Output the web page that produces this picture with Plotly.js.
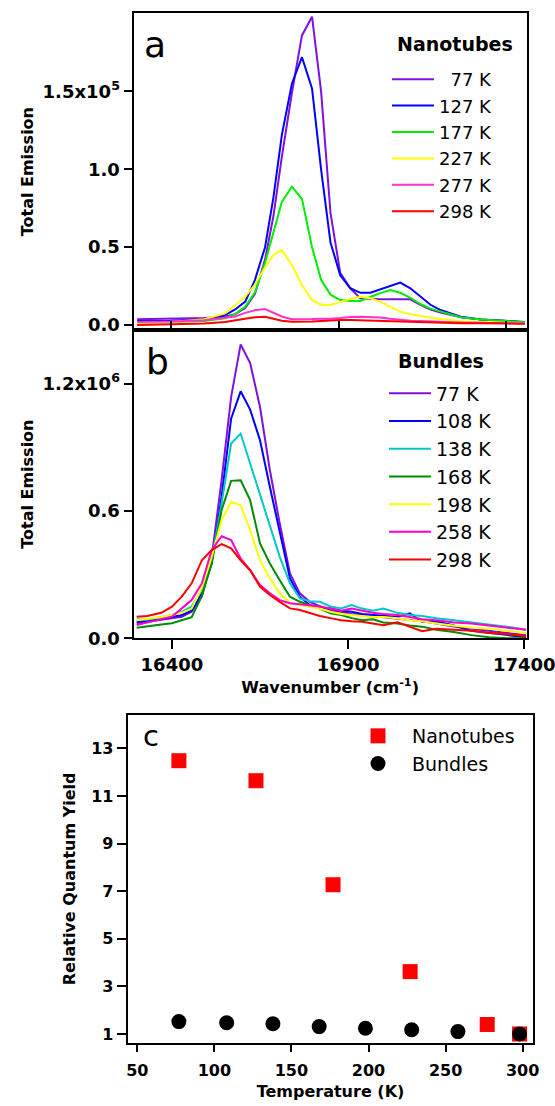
<!DOCTYPE html>
<html>
<head>
<meta charset="utf-8">
<script src="https://cdn.plot.ly/plotly-3.0.1.min.js"></script>
<style>html,body{margin:0;padding:0;background:#fff;}</style>
</head>
<body>
<div id="chart" style="width:555px;height:1106px;"></div>
<script>
// ---------- Panel a: Nanotubes spectra (Total Emission, units of 1e5) ----------
const wavenumberA = [16300,16400,16500,16562,16592,16622,16651,16681,16706,16731,16761,16791,16821,16848,16876,16905,16935,16965,16995,17024,17054,17084,17114,17144,17174,17204,17264,17324,17384,17455];
const nano77  = [0.037,0.040,0.045,0.053,0.070,0.110,0.200,0.420,0.700,1.080,1.490,1.860,1.980,1.500,0.720,0.335,0.236,0.171,0.167,0.165,0.165,0.167,0.165,0.130,0.100,0.080,0.050,0.035,0.026,0.018];
const nano127 = [0.026,0.028,0.035,0.064,0.100,0.150,0.290,0.500,0.820,1.220,1.550,1.720,1.520,1.000,0.530,0.320,0.236,0.207,0.207,0.229,0.250,0.272,0.236,0.180,0.130,0.096,0.053,0.035,0.028,0.020];
const nano177 = [0.015,0.018,0.025,0.043,0.070,0.118,0.210,0.400,0.590,0.790,0.888,0.810,0.500,0.290,0.195,0.160,0.154,0.154,0.180,0.205,0.225,0.207,0.175,0.135,0.105,0.085,0.050,0.035,0.026,0.018];
const nano227 = [0.015,0.020,0.037,0.075,0.125,0.182,0.260,0.370,0.450,0.482,0.385,0.257,0.160,0.130,0.128,0.150,0.168,0.182,0.172,0.150,0.120,0.085,0.070,0.057,0.047,0.038,0.024,0.020,0.015,0.012];
const nano277 = [0.020,0.022,0.030,0.045,0.055,0.078,0.095,0.103,0.080,0.055,0.037,0.036,0.038,0.040,0.040,0.045,0.052,0.053,0.052,0.048,0.040,0.033,0.028,0.025,0.022,0.020,0.016,0.014,0.012,0.010];
const nano298 = [0.000,0.003,0.010,0.020,0.028,0.040,0.050,0.053,0.040,0.028,0.021,0.020,0.022,0.025,0.030,0.032,0.032,0.030,0.030,0.028,0.025,0.021,0.018,0.016,0.014,0.013,0.012,0.011,0.010,0.008];
const namesA  = ["\u200777 K","127 K","177 K","227 K","277 K","298 K"];
const colorsA = ["#7f10e0","#0000ff","#00ee00","#ffff00","#ff33cc","#ff0000"];
const seriesA = [nano77,nano127,nano177,nano227,nano277,nano298];

// ---------- Panel b: Bundles spectra (Total Emission, units of 1e6) ----------
const wavenumberB = [16300,16330,16370,16400,16428,16456,16485,16513,16541,16568,16595,16622,16650,16678,16706,16735,16763,16791,16820,16850,16880,16910,16940,16970,17000,17040,17075,17110,17150,17200,17250,17300,17350,17405];
const bund77  = [0.071,0.078,0.086,0.094,0.102,0.125,0.196,0.384,0.745,1.137,1.385,1.297,1.090,0.792,0.541,0.306,0.212,0.172,0.150,0.130,0.125,0.115,0.110,0.105,0.100,0.092,0.085,0.080,0.070,0.055,0.045,0.035,0.025,0.015];
const bund108 = [0.078,0.082,0.090,0.100,0.110,0.130,0.212,0.354,0.666,1.035,1.164,1.078,0.933,0.713,0.494,0.282,0.196,0.157,0.145,0.140,0.130,0.125,0.115,0.110,0.105,0.100,0.118,0.078,0.080,0.060,0.035,0.025,0.015,0.005];
const bund138 = [0.090,0.088,0.100,0.110,0.125,0.150,0.230,0.370,0.635,0.918,0.965,0.824,0.682,0.525,0.384,0.259,0.188,0.175,0.172,0.150,0.141,0.157,0.140,0.130,0.140,0.120,0.110,0.105,0.094,0.085,0.075,0.065,0.055,0.040];
const bund168 = [0.050,0.055,0.065,0.071,0.085,0.100,0.200,0.354,0.604,0.742,0.745,0.651,0.447,0.353,0.274,0.196,0.172,0.157,0.140,0.118,0.110,0.095,0.085,0.090,0.075,0.070,0.060,0.055,0.040,0.030,0.015,0.005,0.000,0.000];
const bund198 = [0.085,0.090,0.100,0.110,0.120,0.140,0.240,0.384,0.557,0.643,0.627,0.510,0.368,0.282,0.212,0.165,0.157,0.150,0.140,0.125,0.115,0.110,0.105,0.100,0.100,0.095,0.085,0.080,0.070,0.060,0.050,0.045,0.035,0.025];
const bund258 = [0.063,0.075,0.090,0.102,0.141,0.180,0.259,0.416,0.481,0.463,0.376,0.321,0.251,0.212,0.180,0.165,0.160,0.155,0.150,0.140,0.130,0.140,0.130,0.120,0.115,0.110,0.100,0.090,0.085,0.075,0.070,0.060,0.050,0.040];
const bund298 = [0.102,0.105,0.120,0.149,0.196,0.259,0.368,0.416,0.444,0.424,0.368,0.321,0.243,0.204,0.172,0.141,0.133,0.118,0.105,0.095,0.085,0.080,0.078,0.070,0.062,0.075,0.055,0.033,0.045,0.040,0.035,0.025,0.020,0.010];
const namesB  = ["77 K","108 K","138 K","168 K","198 K","258 K","298 K"];
const colorsB = ["#7f10e0","#0000ff","#00c8c8","#008c00","#ffff00","#ff00cc","#ff0000"];
const seriesB = [bund77,bund108,bund138,bund168,bund198,bund258,bund298];

// ---------- Panel c: Relative quantum yield ----------
const tempNano = [77,127,177,227,277,298];
const qyNano   = [12.48,11.64,7.27,3.62,1.40,1.00];
const tempBund = [77,108,138,168,198,228,258,298];
const qyBund   = [1.52,1.47,1.43,1.31,1.24,1.18,1.10,1.00];

// tick labels
const tickValsA = [0,0.5,1.0,1.5];
const tickTextA = ["0.0","0.5","1.0","1.5x10<sup>5</sup>"];
const tickValsB = [0,0.6,1.2];
const tickTextB = ["0.0","0.6","1.2x10<sup>6</sup>"];
const tickWave  = [16400,16900,17400];
const tickWaveText = ["16400","16900","17400"];
const tickTemp  = [50,100,150,200,250,300];
const tickQY    = [1,3,5,7,9,11,13];

// ---------- layout helpers (pixel -> paper) ----------
const W = 555, H = 1106;
const fx = v => v / W;
const fy = v => 1 - v / H;
const FONT = "DejaVu Sans";

const traces = [];
seriesA.forEach((s, i) => traces.push({
  x: wavenumberA, y: s, type: "scatter", mode: "lines", name: namesA[i],
  line: {color: colorsA[i], width: 2}, xaxis: "x", yaxis: "y", legend: "legend"
}));
seriesB.forEach((s, i) => traces.push({
  x: wavenumberB, y: s, type: "scatter", mode: "lines", name: namesB[i],
  line: {color: colorsB[i], width: 2}, xaxis: "x2", yaxis: "y2", legend: "legend2"
}));
traces.push({x: tempNano, y: qyNano, type: "scatter", mode: "markers", name: "Nanotubes",
  marker: {symbol: "square", size: 15, color: "#ff0000"}, xaxis: "x3", yaxis: "y3",
  legend: "legend3", cliponaxis: false});
traces.push({x: tempBund, y: qyBund, type: "scatter", mode: "markers", name: "Bundles",
  marker: {symbol: "circle", size: 15, color: "#000000"}, xaxis: "x3", yaxis: "y3",
  legend: "legend3", cliponaxis: false});

const axBase = {showline: true, mirror: true, linecolor: "#000", linewidth: 2,
  showgrid: false, zeroline: false, tickcolor: "#000", tickwidth: 2, automargin: false,
  ticklabeloverflow: "allow"};

const layout = {
  width: W, height: H, margin: {l: 0, r: 0, t: 0, b: 0},
  paper_bgcolor: "#fff", plot_bgcolor: "#fff", showlegend: true,
  font: {family: FONT, color: "#000"},
  xaxis: Object.assign({}, axBase, {domain: [fx(133.5), fx(526.8)], range: [16289, 17461],
    anchor: "y", ticks: "inside", ticklen: 9, tickvals: tickWave, showticklabels: false}),
  yaxis: Object.assign({}, axBase, {domain: [fy(330), fy(13.3)], range: [-0.032, 2.002],
    anchor: "x", ticks: "outside", ticklen: 8, tickvals: tickValsA, ticktext: tickTextA,
    tickfont: {family: FONT, size: 18, weight: "bold"},
    title: {text: "Total Emission", font: {family: FONT, size: 16, weight: "bold"}, standoff: 5}}),
  xaxis2: Object.assign({}, axBase, {domain: [fx(133.5), fx(526.8)], range: [16291, 17407],
    anchor: "y2", ticks: "outside", ticklen: 9, tickvals: tickWave, ticktext: tickWaveText,
    tickfont: {family: FONT, size: 18, weight: "bold"},
    title: {text: "Wavenumber (cm<sup>-1</sup>)", font: {family: FONT, size: 16, weight: "bold"}, standoff: 8}}),
  yaxis2: Object.assign({}, axBase, {domain: [fy(638.3), fy(330)], range: [0, 1.453],
    anchor: "x2", ticks: "outside", ticklen: 8, tickvals: tickValsB, ticktext: tickTextB,
    tickfont: {family: FONT, size: 18, weight: "bold"},
    title: {text: "Total Emission", font: {family: FONT, size: 16, weight: "bold"}, standoff: 5}}),
  xaxis3: Object.assign({}, axBase, {domain: [fx(127.7), fx(533.3)], range: [43.8, 306.9],
    anchor: "y3", ticks: "outside", ticklen: 7, tickvals: tickTemp, ticklabelstandoff: 5,
    tickfont: {family: FONT, size: 16, weight: "bold"},
    title: {text: "Temperature (K)", font: {family: FONT, size: 16, weight: "bold"}, standoff: 7}}),
  yaxis3: Object.assign({}, axBase, {domain: [fy(1042.7), fy(715)], range: [0.634, 14.4],
    anchor: "x3", ticks: "outside", ticklen: 9, tickvals: tickQY,
    tickfont: {family: FONT, size: 16, weight: "bold"},
    title: {text: "Relative Quantum Yield", font: {family: FONT, size: 16, weight: "bold"}, standoff: 12}}),
  legend: {x: fx(387), y: fy(61), xanchor: "left", yanchor: "top", bgcolor: "rgba(0,0,0,0)",
    font: {family: FONT, size: 18, color: "#000"}, itemwidth: 42, tracegroupgap: 0},
  legend2: {x: fx(384), y: fy(374.5), xanchor: "left", yanchor: "top", bgcolor: "rgba(0,0,0,0)",
    font: {family: FONT, size: 19, color: "#000"}, itemwidth: 42, tracegroupgap: 0},
  legend3: {x: fx(344), y: fy(717), xanchor: "left", yanchor: "top", bgcolor: "rgba(0,0,0,0)",
    font: {family: FONT, size: 19, color: "#000"}, itemwidth: 58, tracegroupgap: 0},
  annotations: [
    {text: "a", x: fx(155), y: fy(44.5), xref: "paper", yref: "paper", showarrow: false,
      xanchor: "center", yanchor: "middle", font: {family: FONT, size: 36, color: "#000"}},
    {text: "b", x: fx(157.5), y: fy(362), xref: "paper", yref: "paper", showarrow: false,
      xanchor: "center", yanchor: "middle", font: {family: FONT, size: 36, color: "#000"}},
    {text: "c", x: fx(151), y: fy(735.5), xref: "paper", yref: "paper", showarrow: false,
      xanchor: "center", yanchor: "middle", font: {family: FONT, size: 29, color: "#000"}},
    {text: "<b>Nanotubes</b>", x: fx(454.5), y: fy(44), xref: "paper", yref: "paper", showarrow: false,
      xanchor: "center", yanchor: "middle", font: {family: FONT, size: 19, color: "#000"}},
    {text: "<b>Bundles</b>", x: fx(441), y: fy(361), xref: "paper", yref: "paper", showarrow: false,
      xanchor: "center", yanchor: "middle", font: {family: FONT, size: 19, color: "#000"}}
  ]
};

Plotly.newPlot("chart", traces, layout, {staticPlot: true, displayModeBar: false});
</script>
</body>
</html>
